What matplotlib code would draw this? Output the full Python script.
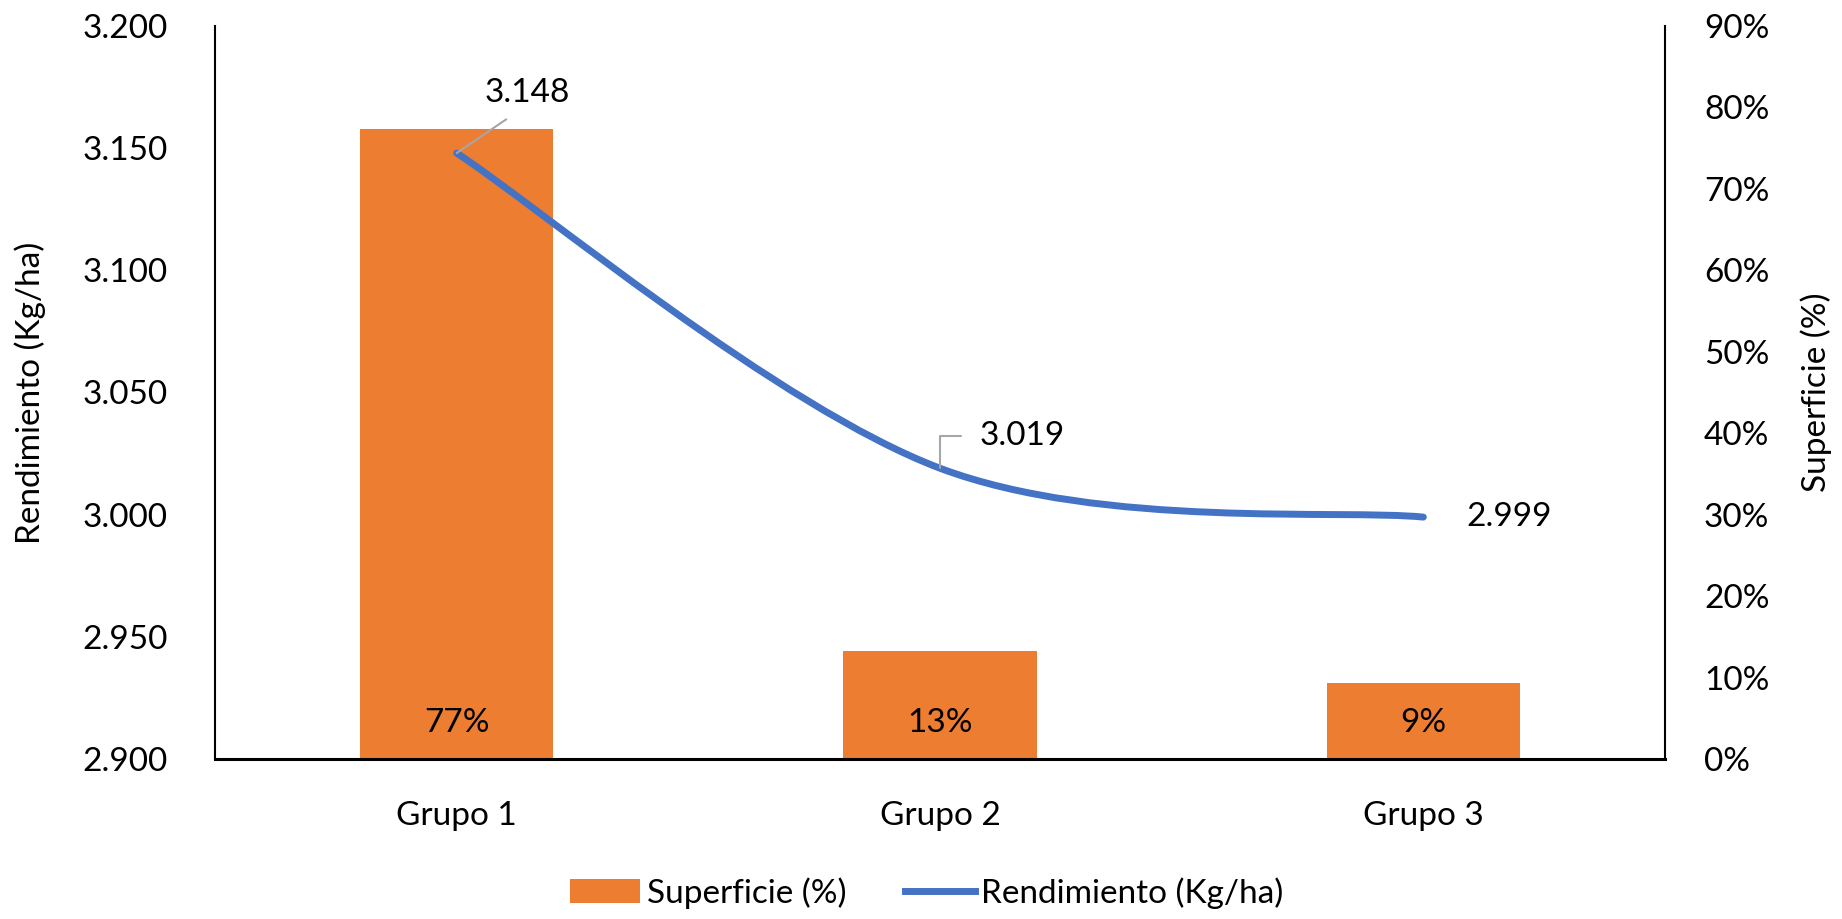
import matplotlib
matplotlib.use("Agg")
import matplotlib.pyplot as plt
from matplotlib.path import Path
from matplotlib.patches import PathPatch, Patch
from matplotlib.lines import Line2D
from matplotlib.ticker import FuncFormatter, MultipleLocator

# data
grupos = ["Grupo 1", "Grupo 2", "Grupo 3"]
superficie = [77.4, 13.3, 9.3]          # %
rendimiento = [3.148, 3.019, 2.999]     # Kg/ha (miles)

naranja = "#ED7D31"
azul = "#4472C4"
gris = "#A6A6A6"

plt.rcParams["font.family"] = ["Lato", "DejaVu Sans"]
fs = 24

fig = plt.figure(figsize=(18.42, 9.19), dpi=100)
ax = fig.add_axes([215 / 1842, 1 - 759 / 919, 1450 / 1842, 733 / 919])
ax2 = ax.twinx()

# bars on the percent axis (right side)
x = list(range(len(grupos)))
ax.bar(x, superficie, width=0.4, color=naranja, zorder=2)
ax.set_xlim(-0.5, 2.5)
ax.set_ylim(0, 90)
ax.yaxis.set_major_locator(MultipleLocator(10))
ax.yaxis.set_major_formatter(FuncFormatter(lambda v, p: f"{v:.0f}%"))
ax.yaxis.tick_right()
ax.yaxis.set_label_position("right")
ax.set_ylabel("Superficie (%)", fontsize=fs, labelpad=22)
ax.set_xticks(x)
ax.set_xticklabels(grupos)
ax.tick_params(axis="x", length=0, pad=30, labelsize=fs)
ax.tick_params(axis="y", length=0, pad=28, labelsize=fs)
ax.spines["top"].set_visible(False)
for s in ["left", "right"]:
    ax.spines[s].set_linewidth(1.5)
    ax.spines[s].set_color("black")
ax.spines["bottom"].set_linewidth(2.2)
ax.spines["bottom"].set_zorder(5)

for xi, v in zip(x, superficie):
    ax.annotate(f"{v:.0f}%", xy=(xi, 0), xytext=(0, 26), textcoords="offset points",
                ha="center", va="center", fontsize=fs, color="black", zorder=3)

# smoothed line on the yield axis (left side)
ax2.set_ylim(2.9, 3.2)
ax2.yaxis.set_major_locator(MultipleLocator(0.05))
ax2.yaxis.set_major_formatter(FuncFormatter(lambda v, p: f"{v:.3f}"))
ax2.yaxis.tick_left()
ax2.yaxis.set_label_position("left")
ax2.set_ylabel("Rendimiento (Kg/ha)", fontsize=fs, labelpad=26)
ax2.tick_params(axis="y", length=0, pad=34, labelsize=fs)
for s in ax2.spines.values():
    s.set_visible(False)

# Excel-like smoothing: cubic Bezier segments (Catmull-Rom tangents)
pts = list(zip(x, rendimiento))
verts = [pts[0]]
codes = [Path.MOVETO]
n = len(pts)
for i in range(n - 1):
    p0 = pts[i - 1] if i > 0 else pts[i]
    p1 = pts[i]
    p2 = pts[i + 1]
    p3 = pts[i + 2] if i + 2 < n else pts[i + 1]
    c1 = (p1[0] + (p2[0] - p0[0]) / 6, p1[1] + (p2[1] - p0[1]) / 6)
    c2 = (p2[0] - (p3[0] - p1[0]) / 6, p2[1] - (p3[1] - p1[1]) / 6)
    verts += [c1, c2, p2]
    codes += [Path.CURVE4] * 3
curva = PathPatch(Path(verts, codes), fill=False, edgecolor=azul, lw=5,
                  capstyle="round", joinstyle="round", transform=ax2.transData, zorder=3)
ax2.add_patch(curva)

# data labels
ax2.annotate(f"{rendimiento[0]:.3f}", xy=pts[0], xytext=(0.146, 3.1726),
             ha="center", va="center", fontsize=fs,
             arrowprops=dict(arrowstyle="-", color=gris, lw=1.5, relpos=(0.45, 0),
                             shrinkA=11, shrinkB=0))
ax2.annotate(f"{rendimiento[1]:.3f}", xy=pts[1], xytext=(1.171, 3.0322),
             ha="center", va="center", fontsize=fs,
             arrowprops=dict(arrowstyle="-", color=gris, lw=1.5, relpos=(0, 0.5),
                             shrinkA=12, shrinkB=0,
                             connectionstyle="angle,angleA=0,angleB=90,rad=0"))
ax2.annotate(f"{rendimiento[2]:.3f}", xy=pts[2], xytext=(2.177, rendimiento[2]),
             ha="center", va="center", fontsize=fs)

handles = [Patch(facecolor=naranja, edgecolor="none"),
           Line2D([], [], color=azul, lw=5)]
fig.legend(handles, ["Superficie (%)", "Rendimiento (Kg/ha)"], loc="center",
           bbox_to_anchor=(927 / 1842, 1 - 893 / 919), ncol=2, frameon=False,
           fontsize=fs, handlelength=2.1, handleheight=0.7, handletextpad=0.2,
           columnspacing=1.75)

fig.savefig("out.png", dpi=100, facecolor="white")
